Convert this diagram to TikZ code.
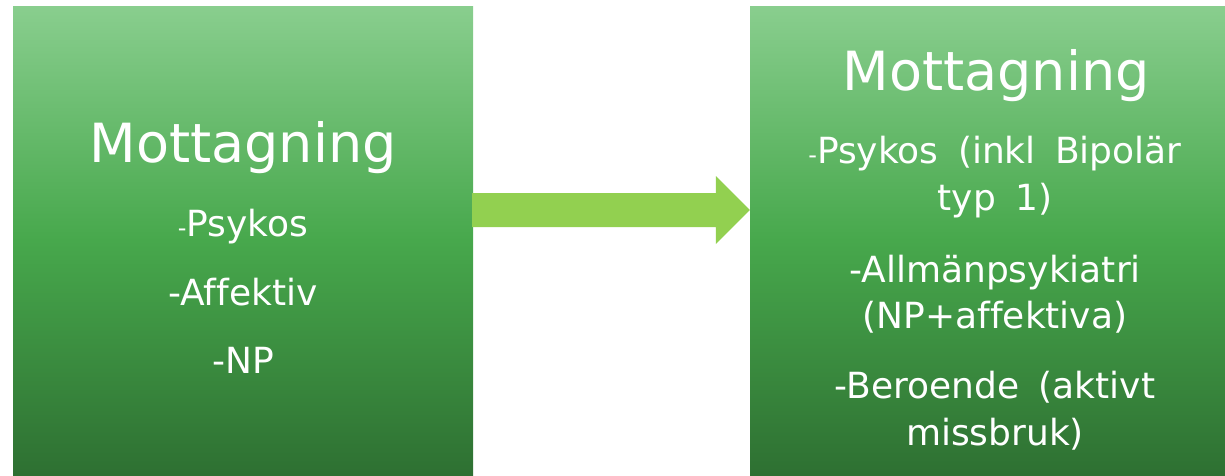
\documentclass[tikz,border=0pt]{standalone}
\usepackage{fontspec}
\setmainfont{DejaVu Sans}[Ligatures=NoCommon, WordSpace=1.7]
\usetikzlibrary{calc}
\definecolor{boxtop}{RGB}{137,206,142}
\definecolor{boxmid}{RGB}{71,168,76}
\definecolor{boxbot}{RGB}{46,112,50}
\definecolor{arrowgreen}{RGB}{146,208,80}
\tikzset{
  unitbox/.style={rectangle, inner sep=0pt, minimum width=#1, minimum height=469pt,
    top color=boxtop, bottom color=boxbot, middle color=boxmid},
  title/.style={text=white, font=\fontsize{54}{60}\selectfont, anchor=base, inner sep=0pt},
  item/.style={text=white, font=\fontsize{36}{40}\selectfont, anchor=base, inner sep=0pt},
}
\newcommand{\sdash}{{\fontsize{24}{24}\selectfont -}}

\begin{document}
\begin{tikzpicture}[x=1pt,y=-1pt]
\useasboundingbox (0,0) rectangle (1225,475);
% the two units
\node[unitbox=460pt] (old) at (243,240.5) {};
\node[unitbox=475pt] (new) at (987.5,240.5) {};
% block arrow
\coordinate (tail) at ($(old.east)+(-1,-30.5)$);
\coordinate (tip) at ($(new.west)+(0,-30.5)$);
\fill[arrowgreen] ($(tail)+(0,-17)$) -- ($(tip)+(-34,-17)$) -- ($(tip)+(-34,-34)$)
  -- (tip) -- ($(tip)+(-34,34)$) -- ($(tip)+(-34,17)$) -- ($(tail)+(0,17)$) -- cycle;
% left text
\node[title] (oldtitle) at (243,162) {Mottagning};
\foreach \y/\t [count=\n] in {236/{\sdash Psykos}, 305/{-Affektiv}, 373/{-NP}}
  { \node[item] (old\n) at (243,\y) {\t}; }
% right text
\node[title] (newtitle) at (996,90) {Mottagning};
\foreach \y/\t [count=\n] in {163/{\sdash Psykos (inkl Bipolär}, 210/{typ 1)},
    282/{-Allmänpsykiatri}, 328/{(NP+affektiva)}, 398/{-Beroende (aktivt}, 445/{missbruk)}}
  { \node[item] (new\n) at (995,\y) {\t}; }
\end{tikzpicture}
\end{document}
